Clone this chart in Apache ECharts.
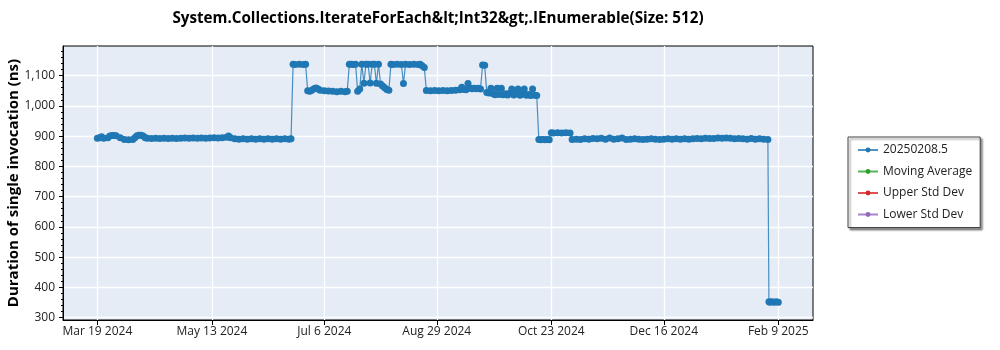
<!DOCTYPE html>
<html>
<head>
<meta charset="utf-8">
<script src="https://cdn.jsdelivr.net/npm/echarts@6/dist/echarts.min.js"></script>
<style>
  html, body { margin: 0; padding: 0; background: #fff; }
  #chart { width: 1000px; height: 350px; }
</style>
</head>
<body>
<div id="chart"></div>
<script>
// ---------- data ----------
const chartTitle = 'System.Collections.IterateForEach&lt;Int32&gt;.IEnumerable(Size: 512)';
const yAxisTitle = 'Duration of single invocation (ns)';
const seriesNames = ['20250208.5', 'Moving Average', 'Upper Std Dev', 'Lower Std Dev'];

const runDates = [
  '2024-03-19','2024-03-20','2024-03-21','2024-03-22','2024-03-24','2024-03-25','2024-03-26','2024-03-27','2024-03-28','2024-03-30',
  '2024-04-01','2024-04-03','2024-04-05','2024-04-06','2024-04-07','2024-04-08','2024-04-09','2024-04-10','2024-04-11','2024-04-12',
  '2024-04-14','2024-04-16','2024-04-18','2024-04-20','2024-04-22','2024-04-24','2024-04-26','2024-04-28','2024-04-30',
  '2024-05-02','2024-05-04','2024-05-06','2024-05-08','2024-05-10','2024-05-12','2024-05-14','2024-05-16','2024-05-18','2024-05-20',
  '2024-05-21','2024-05-22','2024-05-24','2024-05-26','2024-05-28','2024-05-30',
  '2024-06-01','2024-06-03','2024-06-05','2024-06-07','2024-06-09','2024-06-11','2024-06-13','2024-06-15','2024-06-17','2024-06-19','2024-06-20',
  '2024-06-21','2024-06-22','2024-06-24','2024-06-26','2024-06-27',
  '2024-06-28','2024-06-29','2024-06-30','2024-07-01','2024-07-02','2024-07-03','2024-07-04','2024-07-06','2024-07-08','2024-07-10',
  '2024-07-12','2024-07-14','2024-07-16','2024-07-17',
  '2024-07-18','2024-07-19','2024-07-20','2024-07-21','2024-07-22','2024-07-23','2024-07-24','2024-07-25','2024-07-26','2024-07-27',
  '2024-07-28','2024-07-29','2024-07-30','2024-07-31','2024-08-01','2024-08-02','2024-08-03','2024-08-04','2024-08-05','2024-08-06',
  '2024-08-07','2024-08-08','2024-08-10','2024-08-12','2024-08-13','2024-08-14','2024-08-16','2024-08-18','2024-08-20','2024-08-21',
  '2024-08-22','2024-08-23',
  '2024-08-24','2024-08-26','2024-08-28','2024-08-30','2024-09-01','2024-09-03','2024-09-05','2024-09-07','2024-09-09','2024-09-10',
  '2024-09-11','2024-09-12','2024-09-13','2024-09-14','2024-09-15','2024-09-16','2024-09-17','2024-09-18','2024-09-19','2024-09-20',
  '2024-09-21',
  '2024-09-22','2024-09-23','2024-09-24','2024-09-25','2024-09-26','2024-09-27','2024-09-28','2024-09-29','2024-09-30','2024-10-01',
  '2024-10-02','2024-10-03','2024-10-04','2024-10-05','2024-10-06','2024-10-07','2024-10-08','2024-10-09','2024-10-10','2024-10-11',
  '2024-10-12','2024-10-13','2024-10-14','2024-10-15','2024-10-16',
  '2024-10-17','2024-10-18','2024-10-19','2024-10-20','2024-10-21','2024-10-22',
  '2024-10-23','2024-10-24','2024-10-26','2024-10-28','2024-10-30','2024-11-01',
  '2024-11-02','2024-11-04','2024-11-06','2024-11-08','2024-11-10','2024-11-12','2024-11-14','2024-11-16','2024-11-18','2024-11-20',
  '2024-11-22','2024-11-24','2024-11-26','2024-11-28','2024-11-30',
  '2024-12-02','2024-12-04','2024-12-06','2024-12-08','2024-12-10','2024-12-12','2024-12-14','2024-12-16','2024-12-18','2024-12-20',
  '2024-12-22','2024-12-24','2024-12-26','2024-12-28','2024-12-30',
  '2025-01-01','2025-01-03','2025-01-05','2025-01-07','2025-01-09','2025-01-11','2025-01-13','2025-01-15','2025-01-17','2025-01-19',
  '2025-01-21','2025-01-23','2025-01-25','2025-01-27','2025-01-29','2025-01-31','2025-02-02','2025-02-04',
  '2025-02-04T12:00Z','2025-02-05','2025-02-06','2025-02-07','2025-02-08','2025-02-09'
];

const durations = [
  893, 895, 898, 893, 895, 900, 902, 902, 901, 895,
  889, 888, 889, 895, 901, 903, 903, 900, 895, 893,
  892, 893, 892, 893, 892, 893, 892, 893, 894,
  893, 894, 893, 894, 893, 894, 895, 894, 895, 896,
  900, 895, 891, 890, 891, 890,
  891, 890, 891, 890, 891, 890, 891, 890, 891, 890, 891,
  1138, 1137, 1138, 1137, 1138,
  1050, 1048, 1052, 1057, 1059, 1056, 1052, 1050, 1049, 1048,
  1047, 1048, 1047, 1048,
  1138, 1138, 1137, 1138, 1048, 1056, 1138, 1075, 1138, 1138,
  1076, 1138, 1138, 1075, 1138, 1072, 1066, 1060, 1054, 1052,
  1138, 1137, 1138, 1137, 1074, 1138, 1137, 1138, 1137, 1138,
  1133, 1127,
  1051, 1050, 1051, 1050, 1051, 1050, 1051, 1052, 1053, 1062,
  1054, 1053, 1074, 1058, 1057, 1058, 1057, 1058, 1056, 1135,
  1134,
  1044, 1043, 1058, 1040, 1037, 1058, 1038, 1058, 1037, 1040,
  1036, 1042, 1056, 1036, 1040, 1056, 1035, 1039, 1056, 1035,
  1038, 1034, 1056, 1035, 1034,
  889, 888, 889, 888, 889, 888,
  911, 910, 911, 910, 911, 910,
  889, 890, 889, 891, 890, 892, 891, 893, 890, 894,
  890, 891, 894, 889, 890,
  891, 890, 889, 890, 891, 890, 889, 890, 891, 890,
  891, 890, 891, 890, 891,
  892, 891, 893, 892, 892, 894, 893, 894, 893, 891,
  892, 891, 890, 892, 890, 891, 890, 889,
  352, 351, 352, 351, 352, 351
];

const xTickDates = ['2024-03-19','2024-05-13','2024-07-06','2024-08-29','2024-10-23','2024-12-16','2025-02-09'];
const yTicks = [300, 400, 500, 600, 700, 800, 900, 1000, 1100];
const yMinorTicks = [300,320,340,360,380,400,420,440,460,480,500,520,540,560,580,600,620,640,660,680,700,720,740,760,780,800,
  820,840,860,880,900,920,940,960,980,1000,1020,1040,1060,1080,1100,1120,1140,1160,1180];

const seriesColors = ['#1f77b4', '#2ca02c', '#d62728', '#9467bd'];

// ---------- chart ----------
const MONTHS = ['Jan','Feb','Mar','Apr','May','Jun','Jul','Aug','Sep','Oct','Nov','Dec'];
const fmtDate = v => { const d = new Date(v); return MONTHS[d.getUTCMonth()] + ' ' + d.getUTCDate() + ' ' + d.getUTCFullYear(); };
const fmtNum = v => String(v).replace(/\B(?=(\d{3})+(?!\d))/g, ',');

const points = runDates.map((d, i) => [Date.parse(d), durations[i]]);
const xTickValues = xTickDates.map(d => Date.parse(d));
const X_MIN = Date.UTC(2024, 2, 2, 12);
const X_MAX = Date.UTC(2025, 1, 25, 16);
const Y_MIN = 292, Y_MAX = 1198;
const FONT = '"Open Sans", "Noto Sans", sans-serif';

const chart = echarts.init(document.getElementById('chart'), null, { renderer: 'canvas' });

const series = seriesNames.map((name, i) => ({
  name: name,
  type: 'line',
  data: i === 0 ? points : [],
  symbol: 'circle',
  symbolSize: 7,
  showSymbol: true,
  color: seriesColors[i],
  itemStyle: { color: seriesColors[i] },
  lineStyle: { color: seriesColors[i], width: 1.2, opacity: 0.8 },
  animation: false,
  z: 3
}));

chart.setOption({
  animation: false,
  backgroundColor: '#ffffff',
  title: {
    text: chartTitle,
    left: 433,
    top: 6,
    textAlign: 'center',
    textStyle: { fontFamily: FONT, fontWeight: 'bold', fontSize: 15.2, color: '#000' }
  },
  legend: {
    orient: 'vertical',
    left: 848,
    top: 137,
    padding: [6, 8, 6, 9],
    itemGap: 7.5,
    itemWidth: 20,
    itemHeight: 6,
    selectedMode: false,
    backgroundColor: '#ffffff',
    borderColor: '#444',
    borderWidth: 1,
    borderRadius: 0,
    shadowColor: 'rgba(0,0,0,0.45)',
    shadowBlur: 2,
    shadowOffsetX: 2,
    shadowOffsetY: 2,
    textStyle: { fontFamily: FONT, fontSize: 12, color: '#222', lineHeight: 14 },
    data: seriesNames
  },
  grid: {
    left: 63, right: 187, top: 46, bottom: 30,
    outerBoundsMode: 'none',
    containLabel: false,
    show: true,
    backgroundColor: '#e5ecf6',
    borderColor: '#000',
    borderWidth: 1
  },
  xAxis: {
    type: 'value',
    min: X_MIN,
    max: X_MAX,
    axisLine: { show: true, onZero: false, lineStyle: { color: '#000', width: 1 } },
    axisTick: { show: true, length: 5, customValues: xTickValues, lineStyle: { color: '#000' } },
    axisLabel: {
      customValues: xTickValues,
      formatter: fmtDate,
      margin: 6,
      fontFamily: FONT, fontSize: 12, color: '#222',
      showMinLabel: true, showMaxLabel: true
    },
    splitLine: { show: true, lineStyle: { color: '#ffffff', width: 1.3 } }
  },
  yAxis: [
    {
      type: 'value',
      position: 'left',
      min: Y_MIN,
      max: Y_MAX,
      axisLine: { show: true, lineStyle: { color: '#000', width: 1 } },
      axisTick: { show: true, length: 4, customValues: yTicks, lineStyle: { color: '#000' } },
      axisLabel: {
        customValues: yTicks,
        formatter: fmtNum,
        margin: 8,
        fontFamily: FONT, fontSize: 12, color: '#222'
      },
      splitLine: { show: true, lineStyle: { color: '#ffffff', width: 1.3 } },
      name: yAxisTitle,
      nameLocation: 'middle',
      nameGap: 42,
      nameMoveOverlap: false,
      nameTextStyle: { fontFamily: FONT, fontWeight: 'bold', fontSize: 15, color: '#000' }
    },
    {
      type: 'value',
      position: 'left',
      min: Y_MIN,
      max: Y_MAX,
      axisLine: { show: false },
      axisTick: { show: true, length: 2, customValues: yMinorTicks, lineStyle: { color: '#000' } },
      axisLabel: { show: false },
      splitLine: { show: false }
    }
  ],
  series: series
});
</script>
</body>
</html>
